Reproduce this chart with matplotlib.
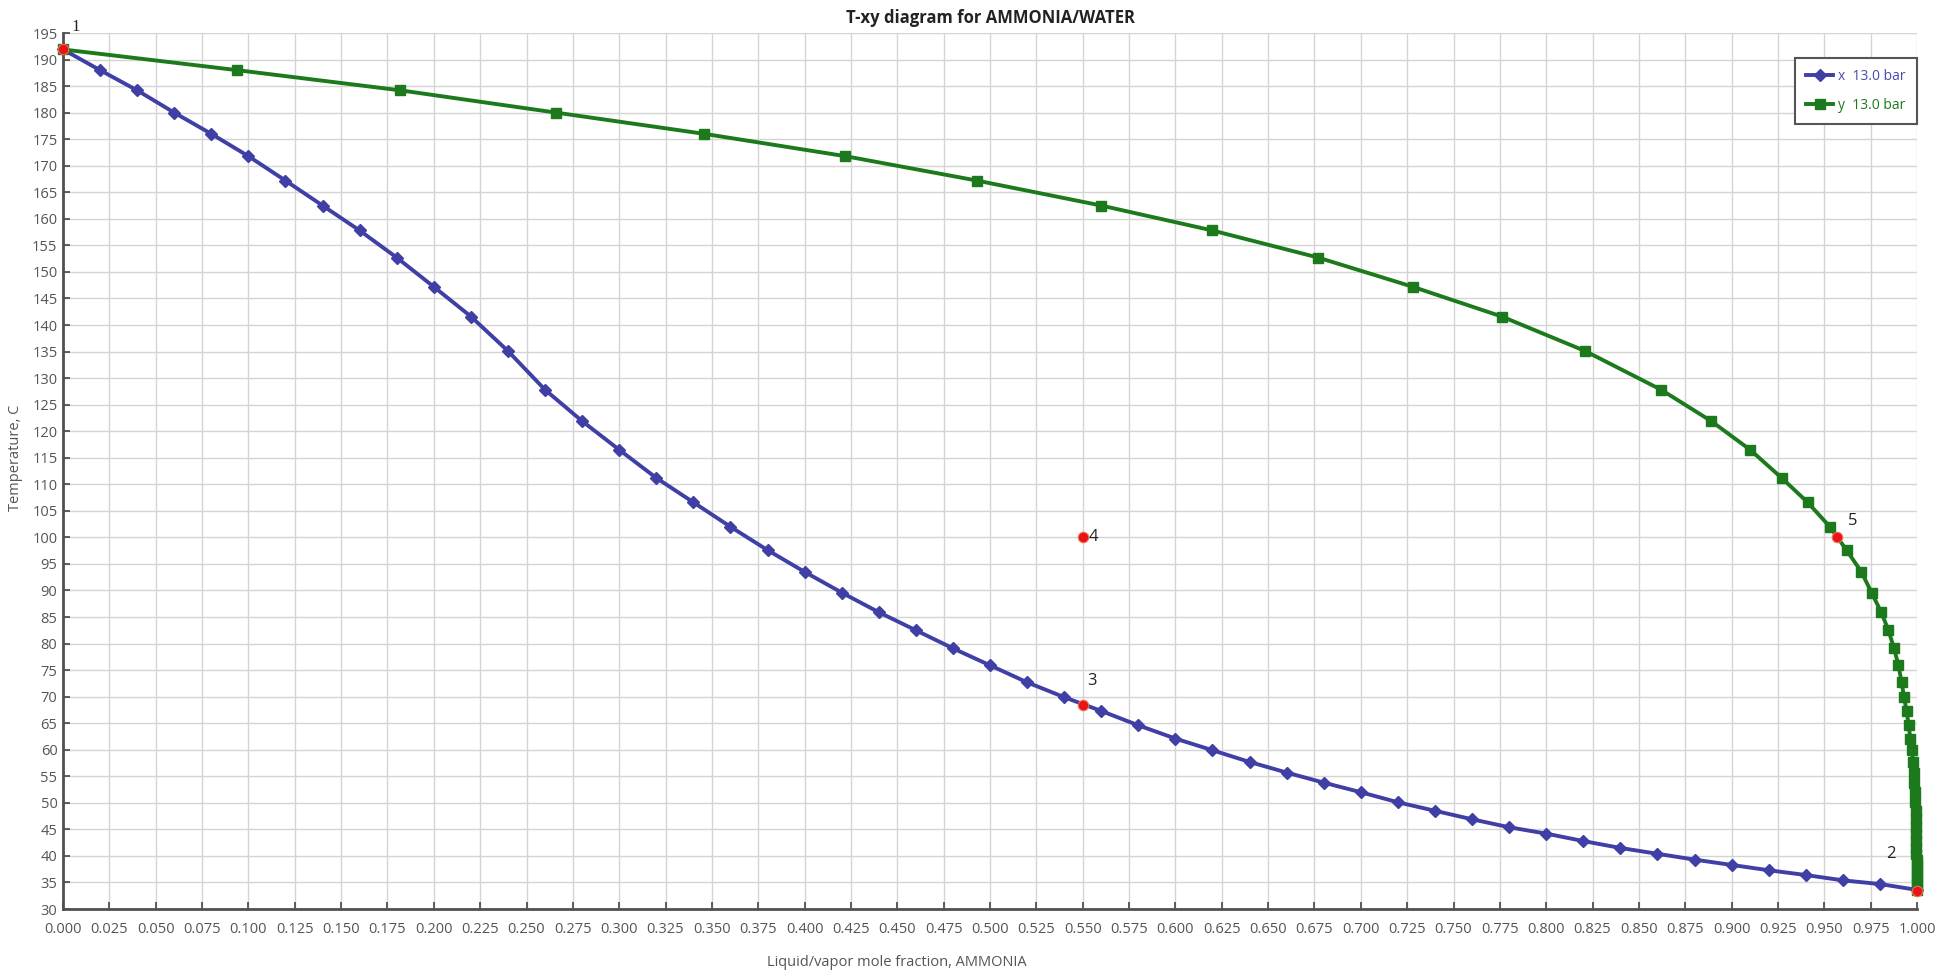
import matplotlib
matplotlib.use("Agg")
import matplotlib.pyplot as plt
import numpy as np

# Equilibrium temperatures at 13.0 bar (C), shared by the liquid and vapor branches
temperature = [191.9, 188.0, 184.2, 180.0, 176.0, 171.8, 167.2, 162.5, 157.8, 152.7,
               147.2, 141.6, 135.1, 127.8, 121.9, 116.5, 111.2, 106.6, 102.0, 97.6,
               93.5, 89.6, 85.9, 82.5, 79.1, 75.9, 72.7, 69.9, 67.3, 64.6,
               62.1, 59.9, 57.7, 55.7, 53.8, 52.0, 50.1, 48.5, 46.9, 45.4,
               44.2, 42.8, 41.5, 40.4, 39.3, 38.3, 37.3, 36.4, 35.4, 34.7, 33.6]

# Liquid mole fraction of ammonia (x)
x_liquid = [0.00, 0.02, 0.04, 0.06, 0.08, 0.10, 0.12, 0.14, 0.16, 0.18,
            0.20, 0.22, 0.24, 0.26, 0.28, 0.30, 0.32, 0.34, 0.36, 0.38,
            0.40, 0.42, 0.44, 0.46, 0.48, 0.50, 0.52, 0.54, 0.56, 0.58,
            0.60, 0.62, 0.64, 0.66, 0.68, 0.70, 0.72, 0.74, 0.76, 0.78,
            0.80, 0.82, 0.84, 0.86, 0.88, 0.90, 0.92, 0.94, 0.96, 0.98, 1.00]

# Vapor mole fraction of ammonia (y)
y_vapor = [0.000, 0.094, 0.182, 0.266, 0.346, 0.422, 0.493, 0.560, 0.620, 0.677,
           0.728, 0.776, 0.821, 0.862, 0.889, 0.910, 0.927, 0.941, 0.953, 0.962,
           0.970, 0.9755, 0.9807, 0.9846, 0.9876, 0.9900, 0.9917, 0.9930, 0.9944, 0.9955,
           0.9964, 0.9973, 0.9978, 0.9982, 0.9985, 0.9988, 0.9990, 0.9992, 0.9993, 0.9994,
           0.9995, 0.9996, 0.9997, 0.9997, 0.9998, 0.9998, 0.9999, 0.9999, 0.99995, 1.0, 1.0]

# Marked state points
point_labels = ["1", "2", "3", "4", "5"]
point_x = [0.0, 1.0, 0.55, 0.55, 0.957]
point_t = [192.0, 33.3, 68.4, 100.0, 100.0]
label_offsets = [(13, 22), (-26, 37), (9, 24), (11, 0), (15, 16)]  # pixels

x_ticks = np.arange(0, 1.0001, 0.025)
t_ticks = np.arange(30, 196, 5)

plt.rcParams["font.family"] = ["Open Sans", "DejaVu Sans"]

fig = plt.figure(figsize=(19.59, 9.71), dpi=100)
ax = fig.add_axes([63 / 1959, 62 / 971, 1854 / 1959, 876 / 971])

blue = "#3f3fa6"
green = "#1c7a1c"
red = "#e8141a"
tick_col = "#555555"

ax.plot(x_liquid, temperature, color=blue, lw=2.8, marker="D", ms=6,
        label="x  13.0 bar", clip_on=False, zorder=3)
ax.plot(y_vapor, temperature, color=green, lw=2.8, marker="s", ms=6.5,
        label="y  13.0 bar", clip_on=False, zorder=3)

ax.plot(point_x, point_t, linestyle="none", marker="o", ms=7.5, color=red,
        markeredgecolor="#f07050", markeredgewidth=0.8, clip_on=False, zorder=5)
for lab, px, pt, off in zip(point_labels, point_x, point_t, label_offsets):
    fam = ["Liberation Serif"] if lab == "1" else ["Open Sans"]
    ax.annotate(lab, (px, pt), xytext=off, textcoords="offset pixels",
                ha="center", va="center", fontsize=12, color="#222222",
                family=fam, zorder=6, annotation_clip=False)

ax.set_xlim(0, 1)
ax.set_ylim(30, 195)
ax.set_xticks(x_ticks)
ax.set_yticks(t_ticks)
ax.set_xticklabels([f"{v:.3f}" for v in x_ticks])
ax.set_yticklabels([f"{v:d}" for v in t_ticks])
ax.tick_params(axis="both", direction="in", length=5, width=1.2, color="#444444",
               labelsize=10.5, labelcolor=tick_col)
ax.tick_params(axis="x", pad=9)
ax.tick_params(axis="y", pad=4)

ax.grid(True, color="#d4d4d4", lw=1.0, zorder=0)
ax.set_axisbelow(True)
for side in ("top", "right"):
    ax.spines[side].set_visible(False)
for side in ("left", "bottom"):
    ax.spines[side].set_color("#505050")
    ax.spines[side].set_linewidth(2)

ax.set_title("T-xy diagram for AMMONIA/WATER", fontsize=12, fontweight="bold",
             color="#222222", pad=7)
ax.set_xlabel("Liquid/vapor mole fraction, AMMONIA", fontsize=10.5, color=tick_col,
              labelpad=9)
ax.xaxis.set_label_coords(0.45, -0.052)
ax.set_ylabel("Temperature, C", fontsize=10.5, color=tick_col, labelpad=4)
ax.yaxis.set_label_coords(-0.0215, 0.515)

leg = ax.legend(loc="upper right", bbox_to_anchor=(1.0, 0.9715), fontsize=10,
                fancybox=False, framealpha=1, edgecolor="#555555",
                handlelength=1.9, handletextpad=0.4, borderpad=0.8,
                labelspacing=1.0, borderaxespad=0)
leg.get_frame().set_linewidth(1.5)
for txt, col in zip(leg.get_texts(), ["#4a4ab0", green]):
    txt.set_color(col)

fig.savefig("out.png", dpi=100, facecolor="white")
